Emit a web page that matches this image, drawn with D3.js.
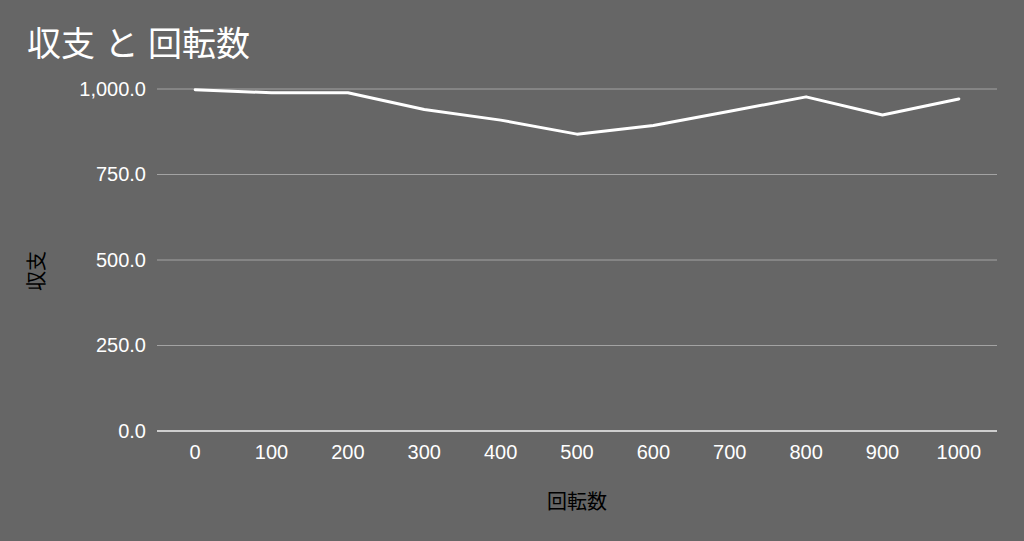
<!DOCTYPE html>
<html><head><meta charset="utf-8">
<script src="https://cdn.jsdelivr.net/npm/d3@7"></script>
<style>
html,body{margin:0;padding:0;background:#666666;}
svg{display:block;font-family:"Liberation Sans",Arial,"Noto Sans CJK JP",sans-serif;}
</style></head>
<body><svg id="c" width="1024" height="541"></svg>
<script>
const categories = ["0","100","200","300","400","500","600","700","800","900","1000"];
const values = [998, 989, 989, 940, 909, 868, 893, 935, 977, 924, 971];
const yTicks = [0, 250, 500, 750, 1000];
const title = "収支 と 回転数";
const yTitle = "収支";
const xTitle = "回転数";

const svg = d3.select("#c");
const W = 1024, H = 541;
const m = {left:157, right:27, top:89, bottom:110};
svg.append("rect").attr("width",W).attr("height",H).attr("fill","#666666");

const x = d3.scaleBand().domain(categories).range([m.left, W - m.right]);
const y = d3.scaleLinear().domain([0, 1000]).range([H - m.bottom, m.top]);

// gridlines
svg.append("g").selectAll("line").data(yTicks.filter(d => d !== 0)).join("line")
  .attr("x1", m.left).attr("x2", W - m.right)
  .attr("y1", d => y(d)).attr("y2", d => y(d))
  .attr("stroke", "#a3a3a3").attr("stroke-width", 1);

// y axis labels
const yAxis = d3.axisLeft(y).tickValues(yTicks).tickSize(0).tickPadding(11)
  .tickFormat(d => d3.format(",.1f")(d));
const ga = svg.append("g").attr("transform", `translate(${m.left},0)`).call(yAxis);
ga.select(".domain").remove();
ga.selectAll("text").attr("fill", "#ffffff").style("font-size", "20px")
  .style("font-family", "'Liberation Sans', Arial, sans-serif");

// baseline
svg.append("line").attr("x1", m.left).attr("x2", W - m.right)
  .attr("y1", y(0)).attr("y2", y(0)).attr("stroke", "#f2f2f2").attr("stroke-width", 1.5);

// x axis labels
const xAxis = d3.axisBottom(x).tickSize(0).tickPadding(14);
const gx = svg.append("g").attr("transform", `translate(0,${y(0)})`).call(xAxis);
gx.select(".domain").remove();
gx.selectAll("text").attr("fill", "#ffffff").style("font-size", "20px")
  .style("font-family", "'Liberation Sans', Arial, sans-serif");

// line
const line = d3.line().x((d, i) => x(categories[i]) + x.bandwidth() / 2).y(d => y(d));
svg.append("path").datum(values).attr("d", line)
  .attr("fill", "none").attr("stroke", "#ffffff").attr("stroke-width", 3)
  .attr("stroke-linejoin", "round").attr("stroke-linecap", "round");

// titles
svg.append("text").attr("x", 27).attr("y", 56).text(title)
  .attr("fill", "#ffffff").style("font-size", "34px");
svg.append("text").attr("x", (m.left + W - m.right) / 2).attr("y", 509)
  .attr("text-anchor", "middle").text(xTitle)
  .attr("fill", "#000000").style("font-size", "20px");
svg.append("text").attr("transform", `translate(44,271) rotate(-90)`)
  .attr("text-anchor", "middle").text(yTitle)
  .attr("fill", "#000000").style("font-size", "20px");
</script></body></html>
